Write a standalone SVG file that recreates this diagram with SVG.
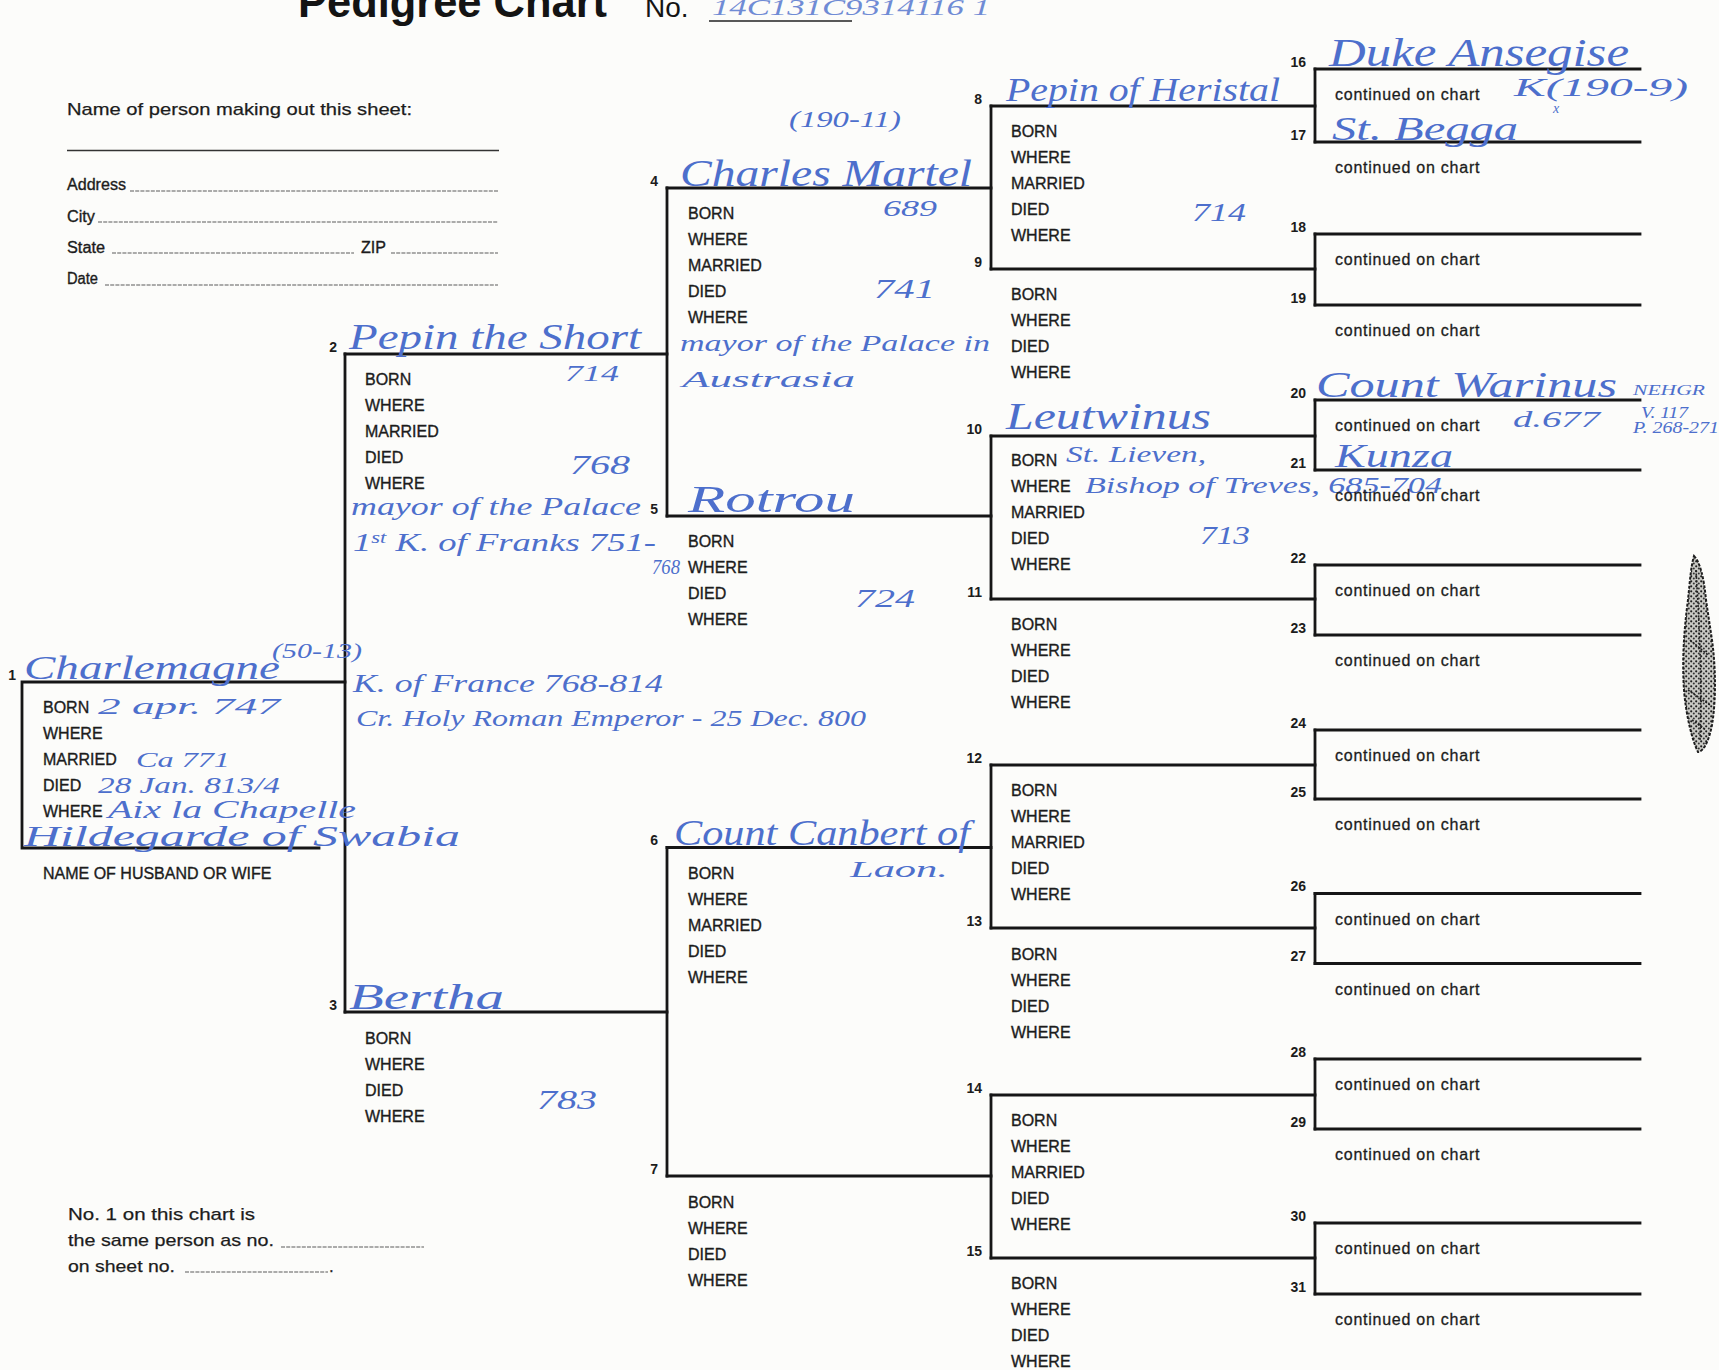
<svg xmlns="http://www.w3.org/2000/svg" width="1719" height="1370" viewBox="0 0 1719 1370">
<defs>
<style>
.ln{stroke:#161616;stroke-width:2.8;fill:none;stroke-linecap:square}
.fl{stroke:#5a5a5a;stroke-width:1.2;fill:none;stroke-dasharray:4 1.2}
.lb{font-family:"Liberation Sans",Arial,sans-serif;font-size:16px;fill:#1c1c1c;stroke:#1c1c1c;stroke-width:0.35}
.ft{font-family:"Liberation Sans",Arial,sans-serif;font-size:17px;fill:#1c1c1c;stroke:#1c1c1c;stroke-width:0.25}
.num{font-family:"Liberation Sans",Arial,sans-serif;font-size:14px;font-weight:bold;fill:#1c1c1c;text-anchor:end}
.ct{font-family:"Liberation Sans",Arial,sans-serif;font-size:16px;fill:#1c1c1c;stroke:#1c1c1c;stroke-width:0.3;letter-spacing:0.75px}
.hw{font-family:"Liberation Serif","DejaVu Serif",serif;font-style:italic;fill:#4d6fcc}
</style>
<pattern id="speck" width="5" height="5" patternUnits="userSpaceOnUse">
<rect width="5" height="5" fill="#c9c9c4"/>
<circle cx="1.2" cy="1.3" r="1.1" fill="#1e1e1e"/>
<circle cx="3.8" cy="3.6" r="1" fill="#333"/>
</pattern>
</defs>
<rect width="1719" height="1370" fill="#fcfcfa"/>

<g id="header">
<text x="298" y="17" font-family="'Liberation Sans',Arial,sans-serif" font-weight="bold" font-size="44" fill="#141414" textLength="309" lengthAdjust="spacingAndGlyphs">Pedigree Chart</text>
<text x="645" y="17" font-family="'Liberation Sans',Arial,sans-serif" font-size="28" fill="#141414">No.</text>
<line x1="709" y1="21" x2="852" y2="21" stroke="#222" stroke-width="1.6"/>
<text class="hw" x="712" y="15" font-size="24" textLength="278" lengthAdjust="spacingAndGlyphs" opacity="0.8">14C131C9314116 1</text>
</g>

<g id="form">
<text class="ft" x="67" y="115" textLength="345" lengthAdjust="spacingAndGlyphs">Name of person making out this sheet:</text>
<line x1="67" y1="150.5" x2="499" y2="150.5" stroke="#333" stroke-width="1.6"/>
<text class="lb" x="67" y="190" textLength="59" lengthAdjust="spacingAndGlyphs">Address</text>
<line class="fl" x1="130" y1="191" x2="498" y2="191"/>
<text class="lb" x="67" y="222" textLength="28" lengthAdjust="spacingAndGlyphs">City</text>
<line class="fl" x1="98" y1="222" x2="498" y2="222"/>
<text class="lb" x="67" y="253" textLength="38" lengthAdjust="spacingAndGlyphs">State</text>
<line class="fl" x1="112" y1="253" x2="354" y2="253"/>
<text class="lb" x="361" y="253" textLength="25" lengthAdjust="spacingAndGlyphs">ZIP</text>
<line class="fl" x1="391" y1="253" x2="498" y2="253"/>
<text class="lb" x="67" y="284" textLength="31" lengthAdjust="spacingAndGlyphs">Date</text>
<line class="fl" x1="105" y1="285" x2="498" y2="285"/>
<text class="ft" x="68" y="1220" textLength="187" lengthAdjust="spacingAndGlyphs">No. 1 on this chart is</text>
<text class="ft" x="68" y="1246" textLength="206" lengthAdjust="spacingAndGlyphs">the same person as no.</text>
<line class="fl" x1="281" y1="1247" x2="424" y2="1247"/>
<text class="ft" x="68" y="1272" textLength="107" lengthAdjust="spacingAndGlyphs">on sheet no.</text>
<line class="fl" x1="185" y1="1272" x2="328" y2="1272"/>
<text class="ft" x="329" y="1272">.</text>
</g>

<g id="connectors">
<path class="ln" d="M345,354V1012"/>
<path class="ln" d="M667,188V516"/>
<path class="ln" d="M667,847.5V1176"/>
<path class="ln" d="M991,106V269"/>
<path class="ln" d="M991,436V599"/>
<path class="ln" d="M991,765V928"/>
<path class="ln" d="M991,1095V1258"/>
<path class="ln" d="M1315,69V142"/>
<path class="ln" d="M1315,234V305"/>
<path class="ln" d="M1315,400V470"/>
<path class="ln" d="M1315,565V635"/>
<path class="ln" d="M1315,730V799"/>
<path class="ln" d="M1315,893.5V963.5"/>
<path class="ln" d="M1315,1059V1129"/>
<path class="ln" d="M1315,1223V1294"/>
</g>

<g id="node1">
<path class="ln" d="M345,682H22V848H319"/>
<text class="num" x="16" y="680">1</text>
<text class="lb" x="43" y="713">BORN</text>
<text class="lb" x="43" y="739">WHERE</text>
<text class="lb" x="43" y="765">MARRIED</text>
<text class="lb" x="43" y="791">DIED</text>
<text class="lb" x="43" y="817">WHERE</text>
<text class="lb" x="43" y="879">NAME OF HUSBAND OR WIFE</text>
<text class="hw" x="24" y="679" font-size="34" textLength="256" lengthAdjust="spacingAndGlyphs">Charlemagne</text>
<text class="hw" x="272" y="658" font-size="22" textLength="90" lengthAdjust="spacingAndGlyphs">(50-13)</text>
<text class="hw" x="98" y="714" font-size="24" textLength="182" lengthAdjust="spacingAndGlyphs">2 apr. 747</text>
<text class="hw" x="136" y="767" font-size="22" textLength="94" lengthAdjust="spacingAndGlyphs">Ca 771</text>
<text class="hw" x="98" y="793" font-size="24" textLength="182" lengthAdjust="spacingAndGlyphs">28 Jan. 813/4</text>
<text class="hw" x="108" y="818" font-size="26" textLength="248" lengthAdjust="spacingAndGlyphs">Aix la Chapelle</text>
<text class="hw" x="24" y="846" font-size="30" textLength="436" lengthAdjust="spacingAndGlyphs">Hildegarde of Swabia</text>
<text class="hw" x="353" y="692" font-size="26" textLength="310" lengthAdjust="spacingAndGlyphs">K. of France 768-814</text>
<text class="hw" x="356" y="726" font-size="23" textLength="510" lengthAdjust="spacingAndGlyphs">Cr. Holy Roman Emperor - 25 Dec. 800</text>
</g>

<g id="node2">
<path class="ln" d="M345,354H667"/>
<text class="num" x="337" y="352">2</text>
<text class="lb" x="365" y="385">BORN</text>
<text class="lb" x="365" y="411">WHERE</text>
<text class="lb" x="365" y="437">MARRIED</text>
<text class="lb" x="365" y="463">DIED</text>
<text class="lb" x="365" y="489">WHERE</text>
<text class="hw" x="349" y="349" font-size="36" textLength="292" lengthAdjust="spacingAndGlyphs">Pepin the Short</text>
<text class="hw" x="565" y="381" font-size="24" textLength="54" lengthAdjust="spacingAndGlyphs">714</text>
<text class="hw" x="570" y="474" font-size="27" textLength="60" lengthAdjust="spacingAndGlyphs">768</text>
<text class="hw" x="351" y="515" font-size="26" textLength="290" lengthAdjust="spacingAndGlyphs">mayor of the Palace</text>
<text class="hw" x="353" y="551" font-size="26" textLength="303" lengthAdjust="spacingAndGlyphs">1<tspan font-size="16" dy="-8">st</tspan><tspan dy="8"> K. of Franks 751-</tspan></text>
<text class="hw" x="652" y="574" font-size="22" textLength="28" lengthAdjust="spacingAndGlyphs">768</text>
</g>

<g id="node3">
<path class="ln" d="M345,1012H667"/>
<text class="num" x="337" y="1010">3</text>
<text class="lb" x="365" y="1044">BORN</text>
<text class="lb" x="365" y="1070">WHERE</text>
<text class="lb" x="365" y="1096">DIED</text>
<text class="lb" x="365" y="1122">WHERE</text>
<text class="hw" x="349" y="1009" font-size="36" textLength="155" lengthAdjust="spacingAndGlyphs">Bertha</text>
<text class="hw" x="537" y="1109" font-size="27" textLength="60" lengthAdjust="spacingAndGlyphs">783</text>
</g>

<g id="node4">
<path class="ln" d="M667,188H991"/>
<text class="num" x="658" y="186">4</text>
<text class="lb" x="688" y="219">BORN</text>
<text class="lb" x="688" y="245">WHERE</text>
<text class="lb" x="688" y="271">MARRIED</text>
<text class="lb" x="688" y="297">DIED</text>
<text class="lb" x="688" y="323">WHERE</text>
<text class="hw" x="789" y="127" font-size="24" textLength="112" lengthAdjust="spacingAndGlyphs">(190-11)</text>
<text class="hw" x="680" y="186" font-size="38" textLength="292" lengthAdjust="spacingAndGlyphs">Charles Martel</text>
<text class="hw" x="883" y="216" font-size="24" textLength="54" lengthAdjust="spacingAndGlyphs">689</text>
<text class="hw" x="874" y="298" font-size="27" textLength="61" lengthAdjust="spacingAndGlyphs">741</text>
<text class="hw" x="680" y="351" font-size="24" textLength="310" lengthAdjust="spacingAndGlyphs">mayor of the Palace in</text>
<text class="hw" x="682" y="387" font-size="24" textLength="173" lengthAdjust="spacingAndGlyphs">Austrasia</text>
</g>

<g id="node5">
<path class="ln" d="M667,516H991"/>
<text class="num" x="658" y="514">5</text>
<text class="lb" x="688" y="547">BORN</text>
<text class="lb" x="688" y="573">WHERE</text>
<text class="lb" x="688" y="599">DIED</text>
<text class="lb" x="688" y="625">WHERE</text>
<text class="hw" x="688" y="512" font-size="38" textLength="167" lengthAdjust="spacingAndGlyphs">Rotrou</text>
<text class="hw" x="855" y="607" font-size="25" textLength="60" lengthAdjust="spacingAndGlyphs">724</text>
</g>

<g id="node6">
<path class="ln" d="M667,847.5H991"/>
<text class="num" x="658" y="845">6</text>
<text class="lb" x="688" y="879">BORN</text>
<text class="lb" x="688" y="905">WHERE</text>
<text class="lb" x="688" y="931">MARRIED</text>
<text class="lb" x="688" y="957">DIED</text>
<text class="lb" x="688" y="983">WHERE</text>
<text class="hw" x="674" y="845" font-size="36" textLength="296" lengthAdjust="spacingAndGlyphs">Count Canbert of</text>
<text class="hw" x="850" y="877" font-size="24" textLength="98" lengthAdjust="spacingAndGlyphs">Laon.</text>
</g>

<g id="node7">
<path class="ln" d="M667,1176H991"/>
<text class="num" x="658" y="1174">7</text>
<text class="lb" x="688" y="1208">BORN</text>
<text class="lb" x="688" y="1234">WHERE</text>
<text class="lb" x="688" y="1260">DIED</text>
<text class="lb" x="688" y="1286">WHERE</text>
</g>

<g id="node8">
<path class="ln" d="M991,106H1315"/>
<text class="num" x="982" y="104">8</text>
<text class="lb" x="1011" y="137">BORN</text>
<text class="lb" x="1011" y="163">WHERE</text>
<text class="lb" x="1011" y="189">MARRIED</text>
<text class="lb" x="1011" y="215">DIED</text>
<text class="lb" x="1011" y="241">WHERE</text>
<text class="hw" x="1006" y="101" font-size="34" textLength="274" lengthAdjust="spacingAndGlyphs">Pepin of Heristal</text>
<text class="hw" x="1192" y="221" font-size="25" textLength="54" lengthAdjust="spacingAndGlyphs">714</text>
</g>

<g id="node9">
<path class="ln" d="M991,269H1315"/>
<text class="num" x="982" y="267">9</text>
<text class="lb" x="1011" y="300">BORN</text>
<text class="lb" x="1011" y="326">WHERE</text>
<text class="lb" x="1011" y="352">DIED</text>
<text class="lb" x="1011" y="378">WHERE</text>
</g>

<g id="node10">
<path class="ln" d="M991,436H1315"/>
<text class="num" x="982" y="434">10</text>
<text class="lb" x="1011" y="466">BORN</text>
<text class="lb" x="1011" y="492">WHERE</text>
<text class="lb" x="1011" y="518">MARRIED</text>
<text class="lb" x="1011" y="544">DIED</text>
<text class="lb" x="1011" y="570">WHERE</text>
<text class="hw" x="1006" y="429" font-size="38" textLength="205" lengthAdjust="spacingAndGlyphs">Leutwinus</text>
<text class="hw" x="1066" y="462" font-size="23" textLength="140" lengthAdjust="spacingAndGlyphs">St. Lieven,</text>
<text class="hw" x="1085" y="493" font-size="24" textLength="357" lengthAdjust="spacingAndGlyphs">Bishop of Treves, 685-704</text>
<text class="hw" x="1200" y="544" font-size="25" textLength="50" lengthAdjust="spacingAndGlyphs">713</text>
</g>

<g id="node11">
<path class="ln" d="M991,599H1315"/>
<text class="num" x="982" y="597">11</text>
<text class="lb" x="1011" y="630">BORN</text>
<text class="lb" x="1011" y="656">WHERE</text>
<text class="lb" x="1011" y="682">DIED</text>
<text class="lb" x="1011" y="708">WHERE</text>
</g>

<g id="node12">
<path class="ln" d="M991,765H1315"/>
<text class="num" x="982" y="763">12</text>
<text class="lb" x="1011" y="796">BORN</text>
<text class="lb" x="1011" y="822">WHERE</text>
<text class="lb" x="1011" y="848">MARRIED</text>
<text class="lb" x="1011" y="874">DIED</text>
<text class="lb" x="1011" y="900">WHERE</text>
</g>

<g id="node13">
<path class="ln" d="M991,928H1315"/>
<text class="num" x="982" y="926">13</text>
<text class="lb" x="1011" y="960">BORN</text>
<text class="lb" x="1011" y="986">WHERE</text>
<text class="lb" x="1011" y="1012">DIED</text>
<text class="lb" x="1011" y="1038">WHERE</text>
</g>

<g id="node14">
<path class="ln" d="M991,1095H1315"/>
<text class="num" x="982" y="1093">14</text>
<text class="lb" x="1011" y="1126">BORN</text>
<text class="lb" x="1011" y="1152">WHERE</text>
<text class="lb" x="1011" y="1178">MARRIED</text>
<text class="lb" x="1011" y="1204">DIED</text>
<text class="lb" x="1011" y="1230">WHERE</text>
</g>

<g id="node15">
<path class="ln" d="M991,1258H1315"/>
<text class="num" x="982" y="1256">15</text>
<text class="lb" x="1011" y="1289">BORN</text>
<text class="lb" x="1011" y="1315">WHERE</text>
<text class="lb" x="1011" y="1341">DIED</text>
<text class="lb" x="1011" y="1367">WHERE</text>
</g>

<g id="node16">
<path class="ln" d="M1315,69H1640"/>
<text class="num" x="1306" y="67">16</text>
<text class="ct" x="1335" y="100">continued on chart</text>
<text class="hw" x="1329" y="66" font-size="40" textLength="300" lengthAdjust="spacingAndGlyphs">Duke Ansegise</text>
<text class="hw" x="1514" y="96" font-size="26" textLength="174" lengthAdjust="spacingAndGlyphs">K(190-9)</text>
<text class="hw" x="1553" y="113" font-size="14">x</text>
</g>

<g id="node17">
<path class="ln" d="M1315,142H1640"/>
<text class="num" x="1306" y="140">17</text>
<text class="ct" x="1335" y="173">continued on chart</text>
<text class="hw" x="1332" y="140" font-size="34" textLength="186" lengthAdjust="spacingAndGlyphs">St. Begga</text>
</g>

<g id="node18">
<path class="ln" d="M1315,234H1640"/>
<text class="num" x="1306" y="232">18</text>
<text class="ct" x="1335" y="265">continued on chart</text>
</g>
<g id="node19">
<path class="ln" d="M1315,305H1640"/>
<text class="num" x="1306" y="303">19</text>
<text class="ct" x="1335" y="336">continued on chart</text>
</g>

<g id="node20">
<path class="ln" d="M1315,400H1640"/>
<text class="num" x="1306" y="398">20</text>
<text class="ct" x="1335" y="431">continued on chart</text>
<text class="hw" x="1316" y="397" font-size="36" textLength="301" lengthAdjust="spacingAndGlyphs">Count Warinus</text>
<text class="hw" x="1633" y="395" font-size="15" textLength="72" lengthAdjust="spacingAndGlyphs">NEHGR</text>
<text class="hw" x="1513" y="427" font-size="24" textLength="87" lengthAdjust="spacingAndGlyphs">d.677</text>
<text class="hw" x="1641" y="418" font-size="17" textLength="47" lengthAdjust="spacingAndGlyphs">V. 117</text>
<text class="hw" x="1633" y="433" font-size="17" textLength="86" lengthAdjust="spacingAndGlyphs">P. 268-271</text>
</g>

<g id="node21">
<path class="ln" d="M1315,470H1640"/>
<text class="num" x="1306" y="468">21</text>
<text class="ct" x="1335" y="501">continued on chart</text>
<text class="hw" x="1335" y="467" font-size="34" textLength="118" lengthAdjust="spacingAndGlyphs">Kunza</text>
</g>

<g id="node22">
<path class="ln" d="M1315,565H1640"/>
<text class="num" x="1306" y="563">22</text>
<text class="ct" x="1335" y="596">continued on chart</text>
</g>
<g id="node23">
<path class="ln" d="M1315,635H1640"/>
<text class="num" x="1306" y="633">23</text>
<text class="ct" x="1335" y="666">continued on chart</text>
</g>
<g id="node24">
<path class="ln" d="M1315,730H1640"/>
<text class="num" x="1306" y="728">24</text>
<text class="ct" x="1335" y="761">continued on chart</text>
</g>
<g id="node25">
<path class="ln" d="M1315,799H1640"/>
<text class="num" x="1306" y="797">25</text>
<text class="ct" x="1335" y="830">continued on chart</text>
</g>
<g id="node26">
<path class="ln" d="M1315,893.5H1640"/>
<text class="num" x="1306" y="891">26</text>
<text class="ct" x="1335" y="925">continued on chart</text>
</g>
<g id="node27">
<path class="ln" d="M1315,963.5H1640"/>
<text class="num" x="1306" y="961">27</text>
<text class="ct" x="1335" y="995">continued on chart</text>
</g>
<g id="node28">
<path class="ln" d="M1315,1059H1640"/>
<text class="num" x="1306" y="1057">28</text>
<text class="ct" x="1335" y="1090">continued on chart</text>
</g>
<g id="node29">
<path class="ln" d="M1315,1129H1640"/>
<text class="num" x="1306" y="1127">29</text>
<text class="ct" x="1335" y="1160">continued on chart</text>
</g>
<g id="node30">
<path class="ln" d="M1315,1223H1640"/>
<text class="num" x="1306" y="1221">30</text>
<text class="ct" x="1335" y="1254">continued on chart</text>
</g>
<g id="node31">
<path class="ln" d="M1315,1294H1640"/>
<text class="num" x="1306" y="1292">31</text>
<text class="ct" x="1335" y="1325">continued on chart</text>
</g>

<g id="quill">
<path d="M1694,556C1700,562 1704,578 1706,600L1712,640C1716,670 1716,700 1712,725C1708,745 1702,752 1698,752C1692,740 1686,715 1684,690C1682,660 1684,630 1688,600C1690,580 1691,566 1694,556Z" fill="url(#speck)" stroke="#1e1e1e" stroke-width="2" stroke-dasharray="3 1.5"/>
<path d="M1696,570C1699,620 1702,670 1700,740M1690,640L1708,655M1688,690L1710,705M1692,720L1706,730" stroke="#222" stroke-width="1.6" fill="none" stroke-dasharray="2 1.5"/>
</g>
</svg>
